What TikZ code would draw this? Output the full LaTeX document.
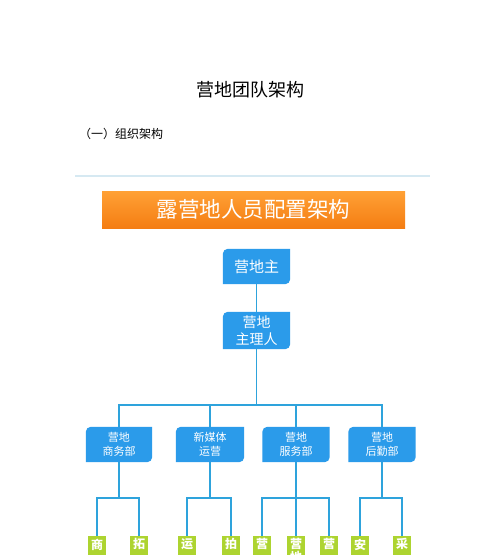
\documentclass[tikz,border=0pt]{standalone}
\usepackage{fontspec}
\setmainfont{Noto Sans CJK SC}
\usetikzlibrary{calc,backgrounds}
\pgfdeclarelayer{bottom}
\pgfsetlayers{bottom,background,main}
\definecolor{boxblue}{HTML}{2B9BEA}
\definecolor{lineblue}{HTML}{2EA3DC}
\definecolor{leafgreen}{HTML}{ADD430}
\definecolor{topline}{HTML}{D6E9F2}
\definecolor{orangetop}{HTML}{FFA034}
\definecolor{orangebot}{HTML}{F47C12}
\newcommand\cornerfill[1]{%
  \begin{pgfonlayer}{background}
  \fill[boxblue] ($(#1.north west)+(0,-5)$) arc[start angle=180,end angle=90,radius=5]
    -- (#1.north east) -- ($(#1.south east)+(0,5)$) arc[start angle=0,end angle=-90,radius=5]
    -- (#1.south west) -- cycle;
  \end{pgfonlayer}}
\newcommand\leafext[1]{%
  \begin{pgfonlayer}{background}
  \fill[leafgreen] (#1.north west) rectangle ($(#1.south east)+(0,-40)$);
  \end{pgfonlayer}}
\tikzset{
  bluebox/.style={text=white, align=center, inner sep=0pt, minimum height=35, minimum width=67},
  leaf/.style={fill=leafgreen, text=white, anchor=north, minimum width=18, inner xsep=0pt,
    inner ysep=2.5pt, align=center, font=\fontsize{12}{11}\selectfont\bfseries},
  conn/.style={draw=lineblue, line width=1.8pt}
}
\begin{document}
\begin{tikzpicture}[x=1pt,y=1pt]
\useasboundingbox (0,0) rectangle (500,555);
\clip (0,0) rectangle (500,555);
\begin{pgfonlayer}{bottom}
\fill[white] (0,0) rectangle (500,555);
\end{pgfonlayer}

\node (title) at (250,465) {\fontsize{18}{20}\selectfont 营地团队架构};
\node[anchor=west, inner sep=0pt] (sub) at (79,421.5) {\fontsize{12}{14}\selectfont （一）组织架构};

\draw[topline, line width=2pt] (75,379) -- (430,379);

\shade[top color=orangetop, bottom color=orangebot] (102,326) rectangle (405,363);
\node[text=white, inner sep=0pt] (banner) at (253.5,346) {\fontsize{21.5}{24}\selectfont 露营地人员配置架构};

\node[bluebox, font=\fontsize{15}{17}\selectfont] (boss) at (256.5,288.5) {营地主};
\cornerfill{boss}
\node[bluebox, minimum height=37, font=\fontsize{14}{17}\selectfont] (mgr) at (256.5,224.5) {营地\\主理人};
\cornerfill{mgr}

\node[bluebox, minimum width=66, font=\fontsize{11}{14}\selectfont] (d1) at (119,110.5) {营地\\商务部};
\node[bluebox, minimum width=68, font=\fontsize{11}{14}\selectfont] (d2) at (210,110.5) {新媒体\\运营};
\node[bluebox, font=\fontsize{11}{14}\selectfont] (d3) at (296,110.5) {营地\\服务部};
\node[bluebox, font=\fontsize{11}{14}\selectfont] (d4) at (382,110.5) {营地\\后勤部};
\cornerfill{d1}\cornerfill{d2}\cornerfill{d3}\cornerfill{d4}

\node[leaf] (g1) at (97,19) {商};
\node[leaf] (g2) at (139,19) {拓};
\node[leaf] (g3) at (187,19) {运};
\node[leaf] (g4) at (231,19) {拍};
\node[leaf] (g5) at (262,19) {营};
\node[leaf] (g6) at (296,19) {营\\地};
\node[leaf] (g7) at (329,19) {营};
\node[leaf] (g8) at (360,19) {安};
\node[leaf] (g9) at (402,19) {采};
\foreach \g in {g1,g2,g3,g4,g5,g6,g7,g8,g9}{\leafext{\g}}

\draw[conn] (boss) -- (mgr);
\coordinate (bus) at (256.5,150);
\draw[conn] (mgr.south) -- (bus);
\foreach \d in {d1,d2,d3,d4}{\draw[conn] (bus) -| (\d.north);}

\coordinate (b1) at (119,57);
\coordinate (b2) at (210,57);
\coordinate (b3) at (296,57);
\coordinate (b4) at (382,57);
\draw[conn] (d1.south) -- (b1);
\draw[conn] (d2.south) -- (b2);
\draw[conn] (d3.south) -- (b3);
\draw[conn] (d4.south) -- (b4);
\draw[conn] (b1) -| (g1.north);
\draw[conn] (b1) -| (g2.north);
\draw[conn] (b2) -| (g3.north);
\draw[conn] (b2) -| (g4.north);
\draw[conn] (b3) -| (g5.north);
\draw[conn] (b3) -- (g6.north);
\draw[conn] (b3) -| (g7.north);
\draw[conn] (b4) -| (g8.north);
\draw[conn] (b4) -| (g9.north);
\end{tikzpicture}
\end{document}
